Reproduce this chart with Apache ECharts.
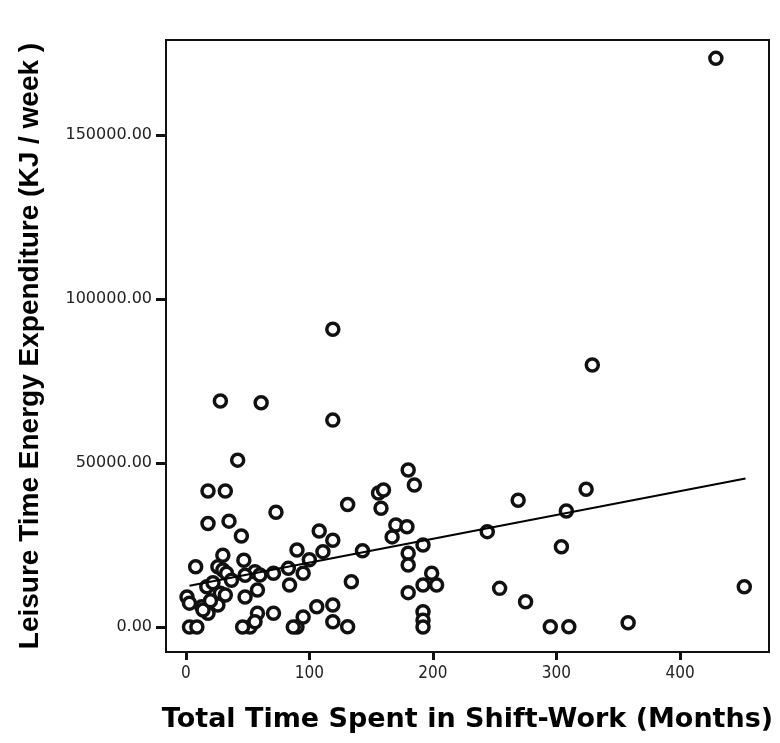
<!DOCTYPE html>
<html>
<head>
<meta charset="utf-8">
<script src="https://cdn.jsdelivr.net/npm/echarts@6/dist/echarts.min.js"></script>
<style>
  html, body { margin: 0; padding: 0; background: #fff; }
  #chart { width: 780px; height: 743px; }
</style>
</head>
<body>
<div id="chart"></div>
<script>
// months in shift-work
var shiftMonths = [429, 119, 329, 28, 61, 119, 42, 180, 185, 324, 18, 32, 156, 160, 158, 269, 131, 308, 73, 18,
    35, 170, 179, 167, 108, 119, 244, 45, 192, 304, 111, 90, 143, 180, 180, 100, 30, 47, 8, 26,
    30, 83, 95, 71, 56, 199, 84, 192, 203, 134, 254, 452, 17, 28, 32, 48, 58, 1, 3, 180,
    13, 26, 18, 275, 106, 119, 58, 71, 192, 192, 192, 119, 131, 90, 95, 87, 52, 46, 56, 3,
    9, 295, 310, 358, 33, 37, 22, 14, 20, 60, 48];
// leisure time energy expenditure, KJ/week
var energyKJ = [173400, 90800, 79900, 68900, 68400, 63100, 50900, 47900, 43300, 42000, 41500, 41500, 40900, 41800, 36200, 38700, 37400, 35400, 35000, 31600,
    32300, 31100, 30600, 27500, 29300, 26500, 29100, 27800, 25000, 24500, 23000, 23500, 23300, 22500, 18900, 20500, 21900, 20400, 18400, 18400,
    17400, 17900, 16400, 16400, 16900, 16400, 12800, 12800, 12800, 13800, 11800, 12300, 12300, 10300, 9800, 9200, 11300, 9200, 7300, 10500,
    6200, 6700, 4200, 7700, 6200, 6700, 4200, 4200, 4700, 2100, 0, 1600, 100, 0, 3100, 0, 0, 0, 1600, 0,
    0, 100, 100, 1300, 16400, 14300, 13500, 5200, 8000, 15900, 15800];
// fitted line end points
var fitX = [3, 453];
var fitY = [12600, 45300];

var xTicks = [0, 100, 200, 300, 400];
var yTicks = [0, 50000, 100000, 150000];

var points = [];
for (var i = 0; i < shiftMonths.length; i++) {
    points.push([shiftMonths[i], energyKJ[i]]);
}
var fitLine = [[fitX[0], fitY[0]], [fitX[1], fitY[1]]];

var myChart = echarts.init(document.getElementById('chart'));

var option = {
    backgroundColor: '#fff',
    animation: false,
    grid: {
        left: 166, right: 11, top: 40, bottom: 91,
        show: true, borderColor: '#111', borderWidth: 2, backgroundColor: '#fff'
    },
    xAxis: {
        type: 'value', min: -16, max: 472,
        name: 'Total Time Spent in Shift-Work (Months)',
        nameLocation: 'middle', nameGap: 54,
        nameTextStyle: { fontFamily: 'DejaVu Sans', fontWeight: 'bold', fontSize: 27, color: '#000' },
        splitLine: { show: false },
        axisLine: { show: true, onZero: false, lineStyle: { color: '#111', width: 2 } },
        axisTick: { show: true, customValues: xTicks, length: 8, lineStyle: { color: '#111', width: 3 } },
        axisLabel: { customValues: xTicks, margin: 13, fontFamily: 'DejaVu Sans Condensed', fontSize: 17, color: '#222' }
    },
    yAxis: {
        type: 'value', min: -7600, max: 179000,
        name: 'Leisure Time Energy Expenditure (KJ / week )',
        nameLocation: 'middle', nameGap: 122,
        nameTextStyle: { fontFamily: 'Liberation Sans', fontWeight: 'bold', fontSize: 28, color: '#000' },
        splitLine: { show: false },
        axisLine: { show: true, onZero: false, lineStyle: { color: '#111', width: 2 } },
        axisTick: { show: true, customValues: yTicks, length: 10, lineStyle: { color: '#111', width: 3 } },
        axisLabel: {
            customValues: yTicks, margin: 14, fontFamily: 'DejaVu Sans', fontSize: 16, color: '#222',
            formatter: function (v) { return v.toFixed(2); }
        }
    },
    series: [
        {
            type: 'scatter',
            data: points,
            symbol: 'circle',
            symbolSize: 12,
            itemStyle: { color: '#fff', borderColor: '#111', borderWidth: 3.5, opacity: 1 }
        },
        {
            type: 'line',
            data: fitLine,
            symbol: 'none',
            lineStyle: { color: '#000', width: 2 },
            z: 3
        }
    ]
};

myChart.setOption(option);
</script>
</body>
</html>
